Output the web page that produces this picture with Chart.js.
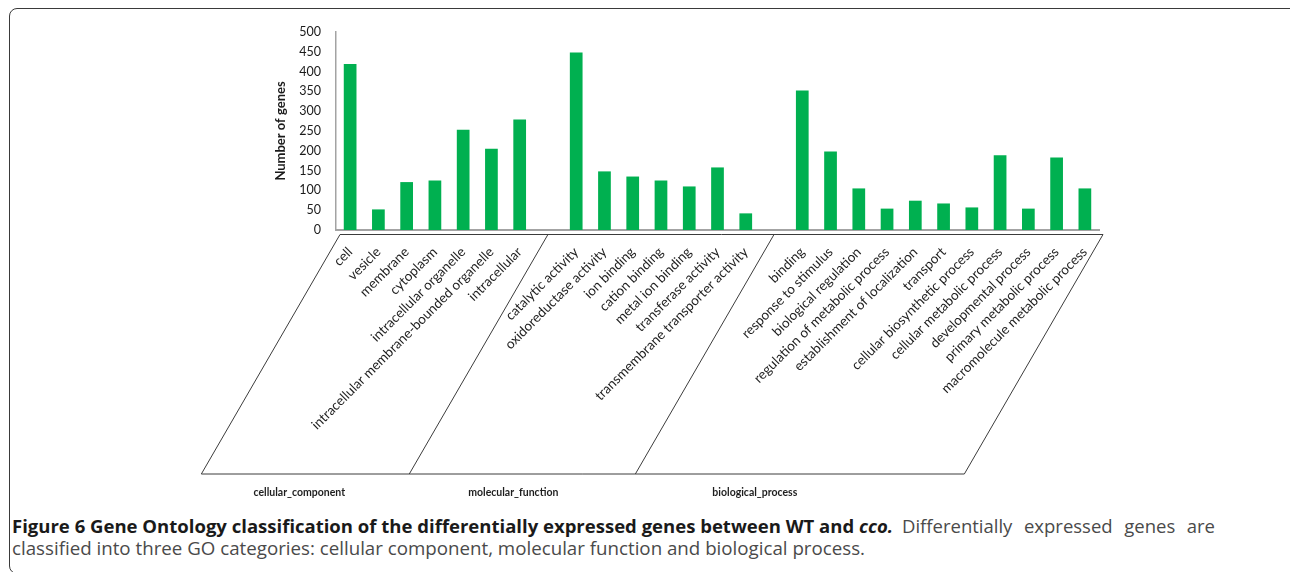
<!DOCTYPE html>
<html>
<head>
<meta charset="utf-8">
<script src="https://cdn.jsdelivr.net/npm/chart.js@4.4.1/dist/chart.umd.min.js"></script>
<style>
  html, body { margin: 0; padding: 0; background: #fff; width: 1290px; height: 572px; overflow: hidden; }
  #frame { position: absolute; left: 9px; top: 8px; width: 1300px; height: 566px; border: 1.5px solid #3a3a3a; border-radius: 8px; box-sizing: border-box; }
  #wrap { position: absolute; left: 0; top: 0; width: 1290px; height: 510px; }
  .cap { position: absolute; font-family: "Open Sans", sans-serif; font-size: 18.5px; line-height: 18px; white-space: nowrap; transform-origin: 0 0; color: #4a4a4a; }
  .cap.bold { font-weight: bold; color: #1a1a1a; }
</style>
</head>
<body>
<div id="frame"></div>
<div id="wrap"><canvas id="c" width="1290" height="510"></canvas></div>
<div class="cap bold" id="capHead" style="top:517px; left:12px">Figure 6 Gene Ontology classification of the differentially expressed genes between WT and <i>cco.</i></div>
<div class="cap" id="capTail" style="top:517px; left:902px">Differentially expressed genes are</div>
<div class="cap" id="capLine2" style="top:539px; left:12px">classified into three GO categories: cellular component, molecular function and biological process.</div>
<script>
// GO terms and gene counts per category
const groupNames = ["cellular_component", "molecular_function", "biological_process"];

const ccTerms = ["cell", "vesicle", "membrane", "cytoplasm", "intracellular organelle",
  "intracellular membrane-bounded organelle", "intracellular"];
const ccCounts = [419, 52, 121, 125, 253, 205, 279];

const mfTerms = ["catalytic activity", "oxidoreductase activity", "ion binding", "cation binding",
  "metal ion binding", "transferase activity", "transmembrane transporter activity"];
const mfCounts = [448, 148, 135, 125, 110, 158, 42];

const bpTerms = ["binding", "response to stimulus", "biological regulation",
  "regulation of metabolic process", "establishment of localization", "transport",
  "cellular biosynthetic process", "cellular metabolic process", "developmental process",
  "primary metabolic process", "macromolecule metabolic process"];
const bpCounts = [352, 198, 105, 54, 74, 67, 57, 189, 54, 183, 105];

const yTicks = [0, 50, 100, 150, 200, 250, 300, 350, 400, 450, 500];

// one empty slot separates the three categories on the axis
const groups = [[ccTerms, ccCounts], [mfTerms, mfCounts], [bpTerms, bpCounts]];
const labels = [], values = [], groupRanges = [];
groups.forEach(([terms, counts], g) => {
  if (g > 0) { labels.push(""); values.push(null); }
  const start = labels.length;
  terms.forEach((t, i) => { labels.push(t); values.push(counts[i]); });
  groupRanges.push([start, labels.length - 1]);
});

// slanted multi-level category frame under the x axis
const goFrame = {
  id: 'goFrame',
  afterDraw(chart, args, opts) {
    const ctx = chart.ctx, xs = chart.scales.x, area = chart.chartArea;
    const top = xs.top + 4.5, bottom = xs.top + 244;
    const skew = (bottom - top) * opts.slope;
    const tops = [area.left + 4];
    for (let g = 1; g < groupRanges.length; g++) {
      tops.push(xs.getPixelForValue(groupRanges[g][0] - 1));
    }
    tops.push(area.right + 4);
    ctx.save();
    ctx.strokeStyle = opts.color;
    ctx.lineWidth = 1;
    ctx.beginPath();
    ctx.moveTo(tops[0], top); ctx.lineTo(tops[tops.length - 1], top);
    ctx.moveTo(tops[0] - skew, bottom); ctx.lineTo(tops[tops.length - 1] - skew, bottom);
    tops.forEach(t => { ctx.moveTo(t, top); ctx.lineTo(t - skew, bottom); });
    ctx.stroke();
    ctx.fillStyle = opts.textColor;
    ctx.font = opts.font;
    ctx.textAlign = 'center';
    ctx.textBaseline = 'middle';
    groupNames.forEach((name, g) => {
      const cx = (tops[g] + tops[g + 1]) / 2 - skew + opts.labelShift[g];
      ctx.fillText(name, cx, bottom + 19);
    });
    ctx.restore();
  }
};

new Chart(document.getElementById('c'), {
  type: 'bar',
  data: {
    labels: labels,
    datasets: [{
      data: values,
      backgroundColor: '#00b050',
      borderColor: '#00b050',
      borderWidth: 0,
      categoryPercentage: 1,
      barPercentage: 0.45
    }]
  },
  options: {
    responsive: false,
    animation: false,
    layout: { padding: { left: 269, top: 32, right: 191, bottom: 0 } },
    plugins: {
      legend: { display: false },
      tooltip: { enabled: false },
      goFrame: {
        slope: 0.579,
        color: '#3c3c3c',
        textColor: '#1e1e1e',
        font: 'bold 10.5px Lato',
        labelShift: [-6, -9, -45]
      }
    },
    scales: {
      x: {
        grid: { display: false, drawTicks: false },
        border: { display: true, color: '#a3a3a3', width: 2 },
        ticks: {
          autoSkip: false, maxRotation: 45, minRotation: 45, padding: 14,
          color: '#1e1e1e', font: { family: 'Lato', size: 13.5 }
        },
        afterFit(scale) { scale.height = 280; }
      },
      y: {
        min: 0, max: 500,
        afterBuildTicks(scale) { scale.ticks = yTicks.map(v => ({ value: v })); },
        grid: { display: false, drawTicks: false },
        border: { display: true, color: '#a3a3a3', width: 1.5 },
        ticks: { padding: 15, color: '#1a1a1a', font: { family: 'Lato', size: 12.5 } },
        title: { display: true, text: 'Number of genes', color: '#1a1a1a', font: { family: 'Lato', size: 13, weight: 'bold' }, padding: { top: 4, bottom: 4 } },
        afterFit(scale) { scale.width = 67; }
      }
    }
  },
  plugins: [goFrame]
});

// caption runs are fitted horizontally to their measured column extents
function naturalWidth(el) { return el.getBoundingClientRect().width; }
const head = document.getElementById('capHead');
const tail = document.getElementById('capTail');
const line2 = document.getElementById('capLine2');
head.style.transform = 'scaleX(' + (881 / naturalWidth(head)) + ')';
line2.style.transform = 'scaleX(' + (853 / naturalWidth(line2)) + ')';
// the first line is justified: widen the word gaps of its regular run
const tailW = naturalWidth(tail);
const gaps = tail.textContent.trim().split(/\s+/).length - 1;
tail.style.wordSpacing = Math.max(0, (313 - tailW) / gaps) + 'px';
if (tailW > 313) tail.style.transform = 'scaleX(' + (313 / tailW) + ')';
</script>
</body>
</html>
